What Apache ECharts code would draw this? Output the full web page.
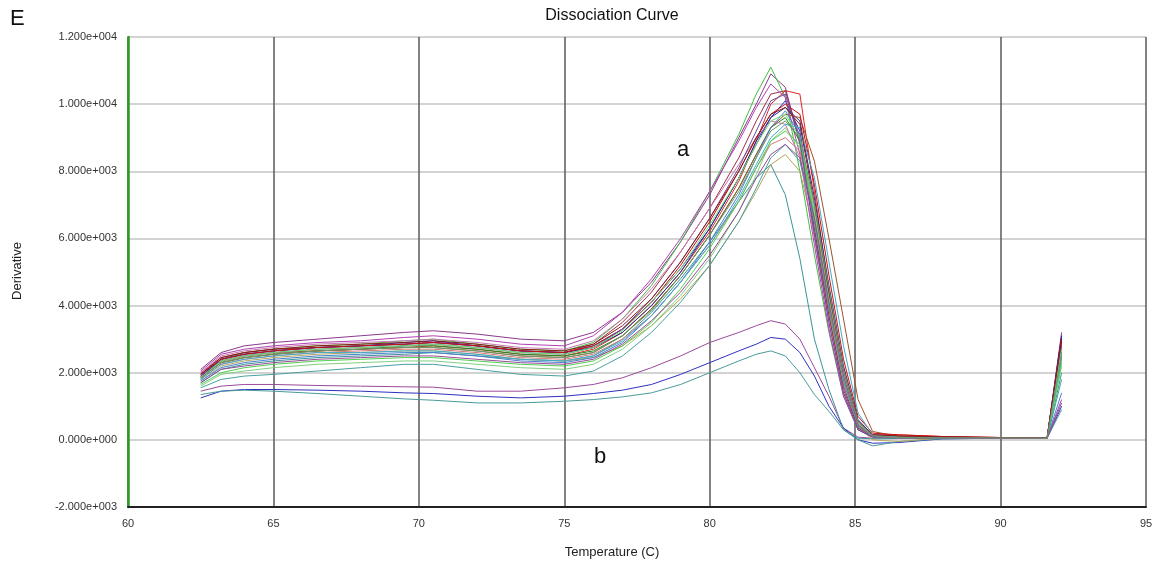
<!DOCTYPE html>
<html><head><meta charset="utf-8">
<script src="https://cdn.jsdelivr.net/npm/echarts@6/dist/echarts.min.js"></script>
<style>html,body{margin:0;padding:0;background:#fff}#c{width:1157px;height:567px}</style>
</head><body><div id="c"></div>
<script>
const temps = [62.5,63.2,64,65,66.5,68,69.5,70.5,72,73.5,75,76,77,78,79,80,81,81.6,82.1,82.6,83.1,83.6,84.1,84.6,85.1,85.6,86.5,88,90,91.6,92.1];
const xTicks = [60,65,70,75,80,85,90,95];
const yTicks = [-2000,0,2000,4000,6000,8000,10000,12000];

const wellA01 = [2100,2600,2800,2900,3000,3100,3200,3250,3150,3000,2950,3200,3800,4700,5900,7300,9000,10000,10900,10500,8800,6200,3700,1600,350,100,80,70,60,50,3200];
const wellA02 = [1800,2400,2600,2700,2800,2850,2950,3000,2850,2700,2650,2900,3600,4600,5900,7400,9100,10300,11100,10200,8000,5500,3200,1300,300,80,60,60,50,50,2600];
const wellA03 = [1950,2400,2550,2650,2750,2800,2900,2950,2800,2650,2600,2800,3300,4100,5100,6300,7800,8800,9600,10100,9200,6500,3900,1700,400,100,60,60,60,50,3100];
const wellA04 = [1900,2350,2500,2600,2650,2700,2750,2800,2700,2550,2500,2700,3200,4000,5000,6200,7700,8900,10000,10400,10300,7400,4400,2000,500,150,150,100,70,60,2700];
const wellA05 = [1700,2100,2250,2350,2450,2500,2550,2600,2500,2400,2350,2500,3000,3800,4800,5900,7100,7800,8200,7300,5400,3000,1500,300,50,30,40,50,50,50,2000];
const wellA06 = [1750,2200,2350,2450,2550,2600,2650,2650,2550,2400,2350,2450,2800,3400,4200,5200,6500,7400,8200,8500,8000,6200,3800,1700,400,0,-50,60,60,50,2400];
const wellA07 = [2000,2450,2600,2700,2750,2800,2850,2900,2800,2650,2600,2850,3500,4400,5600,6900,8400,9500,10300,10400,9000,6300,3700,1500,350,100,80,80,60,50,2900];
const wellA08 = [2050,2550,2700,2800,2900,2950,3050,3100,3000,2850,2800,3100,3800,4800,6000,7400,8900,9900,10600,10200,8500,5800,3300,1300,300,80,70,60,60,50,3000];
const wellA09 = [1850,2300,2450,2550,2650,2700,2800,2800,2700,2550,2500,2650,3100,3900,4900,6100,7500,8500,9300,9600,8900,6600,4000,1800,450,100,70,60,60,50,2500];
const wellA10 = [1600,1950,2050,2150,2250,2300,2350,2350,2250,2150,2100,2250,2700,3400,4300,5400,6800,7900,8900,9300,8700,6500,4000,1800,450,100,60,60,50,50,2200];
const wellA11 = [1900,2400,2550,2650,2750,2800,2850,2900,2800,2650,2600,2750,3200,4000,5000,6300,7800,8900,9600,9900,9500,7200,4600,2200,600,150,100,80,60,60,3100];
const wellA12 = [1800,2250,2400,2500,2600,2650,2700,2700,2600,2450,2400,2550,3000,3700,4700,5800,7100,8100,8800,9000,8600,6800,4300,2000,500,120,80,70,60,50,2600];
const wellA13 = [1850,2300,2450,2550,2650,2700,2750,2750,2650,2500,2450,2600,3100,3900,4900,6100,7500,8500,9300,9700,9600,8300,6000,3600,1200,250,100,80,60,50,2900];
const wellA14 = [1750,2150,2300,2400,2500,2550,2600,2600,2500,2350,2300,2450,2900,3700,4700,5900,7300,8400,9300,9800,9100,6700,4100,1800,450,100,70,60,60,50,1400];
const wellA15 = [2000,2500,2650,2750,2850,2900,2950,3000,2900,2750,2700,2950,3600,4500,5600,6900,8200,9000,9500,9400,8400,6000,3500,1400,300,80,60,60,50,50,2700];
const wellA16 = [1550,1800,1900,1950,2050,2150,2250,2250,2100,1950,1900,2050,2500,3200,4100,5200,6500,7500,8400,8800,8300,6500,4000,1800,400,100,60,60,50,50,1800];
const wellA17 = [1650,2000,2150,2250,2350,2400,2450,2450,2350,2250,2200,2350,2800,3500,4500,5700,7100,8100,8900,9200,8800,6700,4200,1900,450,100,60,60,50,50,2300];
const wellA18 = [1950,2400,2550,2650,2750,2800,2850,2900,2800,2650,2600,2800,3300,4100,5200,6500,8000,9000,9700,10000,9700,7600,4900,2400,700,200,150,100,70,60,3000];
const wellA19 = [1900,2350,2500,2600,2700,2750,2800,2850,2750,2600,2550,2750,3300,4200,5300,6600,8100,9200,10100,10300,8900,6100,3500,1400,300,80,60,60,50,50,2800];
const wellA20 = [1800,2250,2400,2500,2600,2600,2650,2650,2550,2400,2350,2500,2950,3700,4700,5800,7200,8200,9000,9400,9300,7800,5300,2800,800,150,80,70,60,50,2500];
const wellA21 = [1850,2350,2500,2600,2700,2750,2800,2850,2750,2600,2550,2750,3250,4100,5100,6400,7800,8800,9500,9700,9000,6800,4200,1900,500,100,70,70,60,50,2700];
const wellA22 = [1950,2450,2600,2700,2800,2850,2900,2950,2850,2700,2650,2850,3400,4200,5300,6600,8000,9000,9700,9900,9400,7000,4400,2100,550,150,120,90,70,60,3000];
const wellA23 = [1700,2100,2200,2300,2400,2450,2500,2500,2400,2300,2250,2400,2850,3550,4400,5500,6800,7800,8500,8800,8400,6600,4100,1900,450,100,60,60,50,50,1100];
const wellA24 = [1850,2300,2450,2550,2650,2700,2750,2750,2650,2500,2450,2600,3100,3850,4900,6100,7400,8400,9200,9500,9000,7000,4500,2100,550,120,70,60,60,50,2600];
const wellB01 = [1450,1600,1650,1650,1620,1600,1580,1570,1450,1450,1550,1650,1850,2150,2500,2900,3200,3400,3550,3450,3000,2150,1300,350,80,50,50,50,50,50,1200];
const wellB02 = [1250,1450,1500,1500,1480,1450,1400,1380,1300,1250,1300,1380,1480,1650,1950,2300,2650,2850,3050,3000,2600,1900,1000,350,0,-100,-80,30,50,50,1000];
const wellB03 = [1350,1450,1480,1450,1380,1300,1220,1180,1100,1100,1150,1200,1280,1400,1650,2000,2350,2550,2650,2500,2000,1350,850,300,0,-180,-50,30,50,50,900];

const wells = [wellB01,wellB02,wellB03,wellA01,wellA02,wellA03,wellA04,wellA05,wellA06,wellA07,wellA08,wellA09,wellA10,wellA11,wellA12,wellA13,wellA14,wellA15,wellA16,wellA17,wellA18,wellA19,wellA20,wellA21,wellA22,wellA23,wellA24];
const colors = ['#9a4a9a','#3030c0','#4a9a9a',
 '#8b3a8b','#40c040','#2b2bd0','#e02828','#3a9696','#b5a55a','#a03048','#b040b0','#228b22','#7fd07f','#2a2a8a','#d47a7a','#a0522d','#4a7fd0','#c878b0','#4aa0a0','#50d050','#cc1010','#6a4aa0','#40aacc','#70e070','#8a1a1a','#9a4a9a','#6a9a6a'];

function sci(v){
  if (v === 0) return '0.000e+000';
  const s = v < 0 ? '-' : '';
  const a = Math.abs(v);
  const e = Math.floor(Math.log10(a) + 1e-9);
  const m = a / Math.pow(10, e);
  return s + m.toFixed(3) + 'e' + (e < 0 ? '-' : '+') + String(Math.abs(e)).padStart(3, '0');
}

const chart = echarts.init(document.getElementById('c'), null, {renderer:'canvas'});
const font = 'Liberation Sans, Arial, sans-serif';
chart.setOption({
  animation: false,
  backgroundColor: '#fff',
  grid: {left:128, right:11, top:37, bottom:60},
  xAxis: {
    type:'value', min: xTicks[0], max: xTicks[xTicks.length-1], interval: 5,
    axisLine: {show:true, onZero:false, lineStyle:{color:'#222', width:2}},
    axisTick: {show:false},
    axisLabel: {color:'#333', fontSize:11, fontFamily:font, margin:11},
    splitLine: {show:true, lineStyle:{color:'#5a5a5a', width:1.5}}
  },
  yAxis: {
    type:'value', min: yTicks[0], max: yTicks[yTicks.length-1], interval: 2000,
    axisLine: {show:true, onZero:false, lineStyle:{color:'#2a9a2a', width:2.5}},
    axisTick: {show:false},
    axisLabel: {color:'#333', fontSize:11, fontFamily:font, margin:11, formatter: sci},
    splitLine: {show:true, lineStyle:{color:'#c4c4c4', width:1.5}}
  },
  series: wells.map((w, i) => ({
    type:'line', showSymbol:false, symbol:'none',
    data: temps.map((t, j) => [t, w[j]]),
    lineStyle: {width:1, color: colors[i]},
    itemStyle: {color: colors[i]},
    z: 2
  })),
  graphic: [
    {type:'text', left:10, top:8, style:{text:'E', font:'22px '+font, fill:'#111'}},
    {type:'text', x:612, y:16, style:{text:'Dissociation Curve', font:'16px '+font, fill:'#111', textAlign:'center', textVerticalAlign:'middle'}},
    {type:'text', x:17, y:271, rotation:Math.PI/2, style:{text:'Derivative', font:'13px '+font, fill:'#222', textAlign:'center', textVerticalAlign:'middle'}},
    {type:'text', x:612, y:552, style:{text:'Temperature (C)', font:'13px '+font, fill:'#222', textAlign:'center', textVerticalAlign:'middle'}},
    {type:'text', x:683, y:150, style:{text:'a', font:'22px '+font, fill:'#111', textAlign:'center', textVerticalAlign:'middle'}},
    {type:'text', x:600, y:457, style:{text:'b', font:'22px '+font, fill:'#111', textAlign:'center', textVerticalAlign:'middle'}}
  ]
});
</script></body></html>
